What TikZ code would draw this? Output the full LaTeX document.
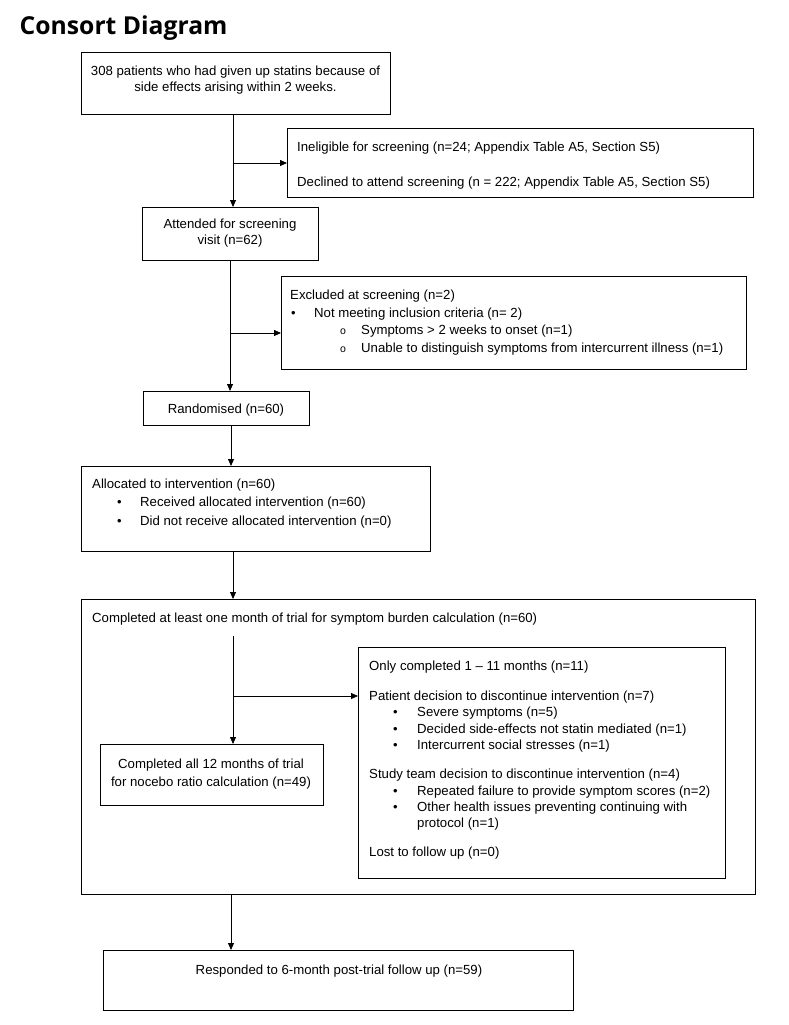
\documentclass[tikz,border=0pt]{standalone}
\usepackage{fontspec}
\setmainfont{Liberation Sans}
\newfontfamily\titlefont{Open Sans}
\usetikzlibrary{arrows.meta}
\begin{document}
\begin{tikzpicture}[x=1pt,y=-1pt,
  box/.style={draw, line width=0.8pt, inner sep=0pt, anchor=north west},
  txt/.style={anchor=base west, inner sep=0pt, yshift=-1pt, font=\fontsize{13.2}{15}\selectfont},
  ctxt/.style={anchor=base, inner sep=0pt, yshift=-1pt, font=\fontsize{13.2}{15}\selectfont},
  bul/.style={anchor=base west, inner sep=0pt, yshift=-1pt, xshift=1pt, font=\fontsize{13}{14}\selectfont},
  circ/.style={anchor=base west, inner sep=0pt, yshift=-1pt, xshift=1pt, font=\fontsize{10.5}{12}\selectfont},
  arr/.style={-{Triangle[length=7pt,width=6pt]}, line width=0.8pt}]
\useasboundingbox (0,0) rectangle (788,1025);

% title
\node[anchor=base west, inner sep=0pt, font=\titlefont\bfseries\fontsize{24.7}{28}\selectfont] (title) at (19.5,35) {Consort Diagram};

% boxes
\node[box, minimum width=309pt, minimum height=62pt] (b1) at (81,52) {};
\node[box, minimum width=466pt, minimum height=69pt] (b2) at (287,128) {};
\node[box, minimum width=176pt, minimum height=53pt] (b3) at (142,207) {};
\node[box, minimum width=465pt, minimum height=93pt] (b4) at (281,276) {};
\node[box, minimum width=166pt, minimum height=34pt] (b5) at (143,391) {};
\node[box, minimum width=349pt, minimum height=85pt] (b6) at (81,466) {};
\node[box, minimum width=674pt, minimum height=295pt] (b7) at (81,599) {};
\node[box, minimum width=367pt, minimum height=231pt] (b8) at (358,647) {};
\node[box, minimum width=223pt, minimum height=61pt] (b9) at (100,744) {};
\node[box, minimum width=470pt, minimum height=60pt] (b10) at (103,950) {};

% texts
\node[ctxt] (t1a) at (235.5,74) {308 patients who had given up statins because of};
\node[ctxt] (t1b) at (235.5,91) {side effects arising within 2 weeks.};

\node[txt] (t2a) at (297,150) {Ineligible for screening (n=24; Appendix Table A5, Section S5)};
\node[txt] (t2b) at (297,185) {Declined to attend screening (n = 222; Appendix Table A5, Section S5)};

\node[ctxt] (t3a) at (230,227) {Attended for screening};
\node[ctxt] (t3b) at (230,243) {visit (n=62)};

\node[txt] (t4a) at (290,298) {Excluded at screening (n=2)};
\node[bul] (t4bb) at (290,316) {•};
\node[txt] (t4b) at (314,316) {Not meeting inclusion criteria (n= 2)};
\node[circ] (t4cc) at (339,333) {o};
\node[txt] (t4c) at (361,333) {Symptoms > 2 weeks to onset (n=1)};
\node[circ] (t4dd) at (339,351) {o};
\node[txt] (t4d) at (361,351) {Unable to distinguish symptoms from intercurrent illness (n=1)};

\node[ctxt] (t5) at (226,412) {Randomised (n=60)};

\node[txt] (t6a) at (92,487) {Allocated to intervention (n=60)};
\node[bul] (t6bb) at (116,505) {•};
\node[txt] (t6b) at (140,505) {Received allocated intervention (n=60)};
\node[bul] (t6cc) at (116,524) {•};
\node[txt] (t6c) at (140,524) {Did not receive allocated intervention (n=0)};

\node[txt] (t7) at (92,621) {Completed at least one month of trial for symptom burden calculation (n=60)};

\node[txt] (t8a) at (369,669) {Only completed 1 – 11 months (n=11)};
\node[txt] (t8b) at (369,699) {Patient decision to discontinue intervention (n=7)};
\node[bul] (t8cc) at (392,715) {•};
\node[txt] (t8c) at (417,715) {Severe symptoms (n=5)};
\node[bul] (t8dd) at (392,732) {•};
\node[txt] (t8d) at (417,732) {Decided side-effects not statin mediated (n=1)};
\node[bul] (t8ee) at (392,748) {•};
\node[txt] (t8e) at (417,748) {Intercurrent social stresses (n=1)};
\node[txt] (t8f) at (369,777) {Study team decision to discontinue intervention (n=4)};
\node[bul] (t8gg) at (392,794) {•};
\node[txt] (t8g) at (417,794) {Repeated failure to provide symptom scores (n=2)};
\node[bul] (t8hh) at (392,810) {•};
\node[txt] (t8h) at (417,810) {Other health issues preventing continuing with};
\node[txt] (t8i) at (417,826) {protocol (n=1)};
\node[txt] (t8j) at (369,855) {Lost to follow up (n=0)};

\node[ctxt] (t9a) at (211,767) {Completed all 12 months of trial};
\node[ctxt] (t9b) at (211,785) {for nocebo ratio calculation (n=49)};

\node[ctxt] (t10) at (339,973) {Responded to 6-month post-trial follow up (n=59)};

% connectors
\coordinate (c1) at (233,163);
\draw[arr] (b1.south -| c1) -- (b3.north -| c1);
\draw[arr] (c1) -- (b2.west |- c1);

\coordinate (c2) at (230,333);
\draw[arr] (b3.south -| c2) -- (b5.north -| c2);
\draw[arr] (c2) -- (b4.west |- c2);

\coordinate (c3) at (231,0);
\draw[arr] (b5.south -| c3) -- (b6.north -| c3);

\coordinate (c4) at (233,0);
\draw[arr] (b6.south -| c4) -- (b7.north -| c4);

\coordinate (c5top) at (233,636);
\coordinate (c5) at (233,696);
\draw[arr] (c5top) -- (b9.north -| c5top);
\draw[arr] (c5) -- (b8.west |- c5);

\coordinate (c6) at (231,0);
\draw[arr] (b7.south -| c6) -- (b10.north -| c6);
\end{tikzpicture}
\end{document}
